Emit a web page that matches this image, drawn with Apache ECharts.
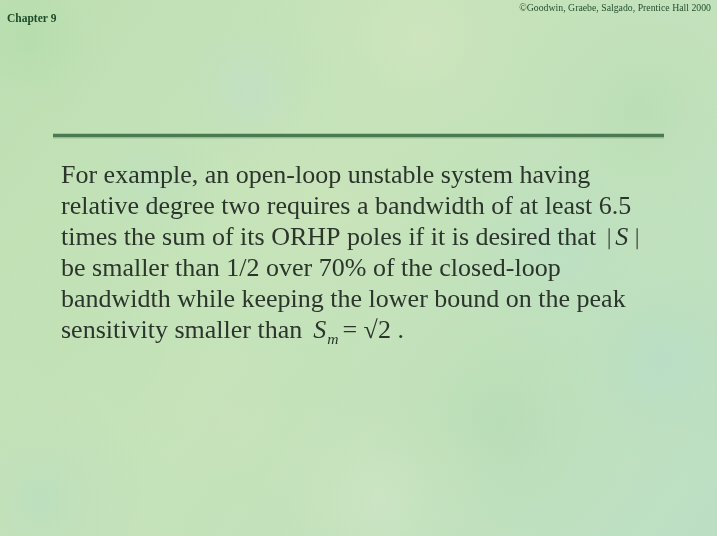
<!DOCTYPE html>
<html lang="en">
<head>
    <meta charset="UTF-8">
    <title>Chapter 9</title>
    <script src="https://cdn.jsdelivr.net/npm/echarts@6/dist/echarts.min.js"></script>
</head>
<style>
    html, body { margin: 0; padding: 0; }
    #main { width: 717px; height: 536px; }
</style>
<body>
<div id="main"></div>
<script>
    // slide texts
    var chapterLabel = 'Chapter 9';
    var copyrightLabel = '\u00A9Goodwin, Graebe, Salgado, Prentice Hall 2000';
    var bodyLines = [
        'For example, an open-loop unstable system having',
        'relative degree two requires a bandwidth of at least 6.5',
        'times the sum of its ORHP poles if it is desired that',
        'be smaller than 1/2 over 70% of the closed-loop',
        'bandwidth while keeping the lower bound on the peak',
        'sensitivity smaller than'
    ];
    // math pieces appended to lines 3 and 6
    var absSymbol = 'S';
    var peakSymbol = ['S', 'm', '= \u221A2 .'];

    var myChart = echarts.init(document.getElementById('main'));

    var FONT = '"Liberation Serif", "Times New Roman", serif';
    var fontSize = 25;
    var sx = 1.04;          // reference type is a little wider than Times
    var textColor = '#2b352c';
    var left0 = 61;
    var base0 = 183;
    var lineGap = 31.1;

    var ctx = document.createElement('canvas').getContext('2d');
    function measure(txt, font) {
        ctx.font = font;
        return ctx.measureText(txt).width * sx;
    }
    // text placed by its baseline
    function baseText(x, baseline, txt, font, size) {
        return {
            type: 'text',
            x: x,
            y: baseline - 0.28 * size,
            scaleX: sx,
            style: {
                x: 0, y: 0, text: txt, font: font, fill: textColor,
                textVerticalAlign: 'middle'
            }
        };
    }

    var elements = [];

    // background: pale wash plus soft patches
    elements.push({
        type: 'rect',
        shape: { x: 0, y: 0, width: 717, height: 536 },
        style: {
            fill: new echarts.graphic.LinearGradient(0, 0, 1, 1, [
                { offset: 0, color: '#bddfb2' },
                { offset: 0.35, color: '#c7e3ba' },
                { offset: 0.7, color: '#c2e1bd' },
                { offset: 1, color: '#bcdfc4' }
            ])
        },
        silent: true
    });
    var blobs = [
        [30, 40, 90, 'rgba(165,215,160,0.35)'],
        [420, 40, 160, 'rgba(214,231,194,0.5)'],
        [640, 110, 130, 'rgba(172,216,170,0.35)'],
        [250, 90, 90, 'rgba(190,222,212,0.45)'],
        [330, 210, 170, 'rgba(208,229,186,0.45)'],
        [560, 250, 150, 'rgba(182,221,204,0.45)'],
        [80, 330, 150, 'rgba(190,223,178,0.45)'],
        [230, 420, 140, 'rgba(204,227,188,0.45)'],
        [500, 420, 150, 'rgba(168,214,170,0.35)'],
        [660, 360, 120, 'rgba(176,219,206,0.45)'],
        [380, 500, 140, 'rgba(215,232,204,0.45)'],
        [40, 500, 120, 'rgba(174,217,194,0.4)'],
        [150, 180, 80, 'rgba(178,220,200,0.35)']
    ];
    blobs.forEach(function (b) {
        elements.push({
            type: 'circle',
            shape: { cx: b[0], cy: b[1], r: b[2] },
            style: {
                fill: new echarts.graphic.RadialGradient(0.5, 0.5, 0.5, [
                    { offset: 0, color: b[3] },
                    { offset: 1, color: 'rgba(190,225,180,0)' }
                ])
            },
            silent: true
        });
    });

    // header texts
    elements.push({
        type: 'text',
        style: {
            x: 7, y: 19, text: chapterLabel,
            font: 'bold 11.5px ' + FONT, fill: '#1d4a2a',
            textVerticalAlign: 'middle'
        }
    });
    elements.push({
        type: 'text',
        x: 711, y: 8, scaleX: 1.03,
        style: {
            x: 0, y: 0, text: copyrightLabel,
            font: '9.5px ' + FONT, fill: '#24502f',
            textAlign: 'right', textVerticalAlign: 'middle'
        }
    });

    // title rule
    elements.push({
        type: 'line',
        shape: { x1: 53, y1: 135.5, x2: 664, y2: 135.5 },
        style: { stroke: '#4a7a51', lineWidth: 3.5 }
    });
    elements.push({
        type: 'line',
        shape: { x1: 53, y1: 138, x2: 664, y2: 138 },
        style: { stroke: 'rgba(120,165,120,0.55)', lineWidth: 1 }
    });

    // body lines
    var bodyFont = fontSize + 'px ' + FONT;
    var italicFont = 'italic ' + fontSize + 'px ' + FONT;
    bodyLines.forEach(function (line, i) {
        elements.push(baseText(left0, base0 + i * lineGap, line, bodyFont, fontSize));
    });

    // |S| at end of line 3
    var y3 = base0 + 2 * lineGap;
    var x3 = left0 + measure(bodyLines[2], bodyFont) + 13;
    elements.push({
        type: 'line',
        shape: { x1: x3, y1: y3 - 17, x2: x3, y2: y3 + 4 },
        style: { stroke: textColor, lineWidth: 1.1 }
    });
    elements.push(baseText(x3 + 6, y3, absSymbol, italicFont, fontSize));
    var sW = measure(absSymbol, italicFont);
    elements.push({
        type: 'line',
        shape: { x1: x3 + sW + 15, y1: y3 - 17, x2: x3 + sW + 15, y2: y3 + 4 },
        style: { stroke: textColor, lineWidth: 1.1 }
    });

    // S_m = sqrt2 at end of line 6
    var y6 = base0 + 5 * lineGap;
    var x6 = left0 + measure(bodyLines[5], bodyFont) + 11;
    elements.push(baseText(x6, y6, peakSymbol[0], italicFont, fontSize));
    var subFont = 'italic 15px ' + FONT;
    var x6m = x6 + measure(peakSymbol[0], italicFont) + 1;
    elements.push(baseText(x6m, y6 + 6, peakSymbol[1], subFont, 15));
    elements.push(baseText(x6m + measure(peakSymbol[1], subFont) + 4, y6,
        peakSymbol[2], bodyFont, fontSize));

    var option = {
        animation: false,
        backgroundColor: '#c2e1b8',
        graphic: { elements: elements }
    };
    myChart.setOption(option);
</script>
</body>
</html>
